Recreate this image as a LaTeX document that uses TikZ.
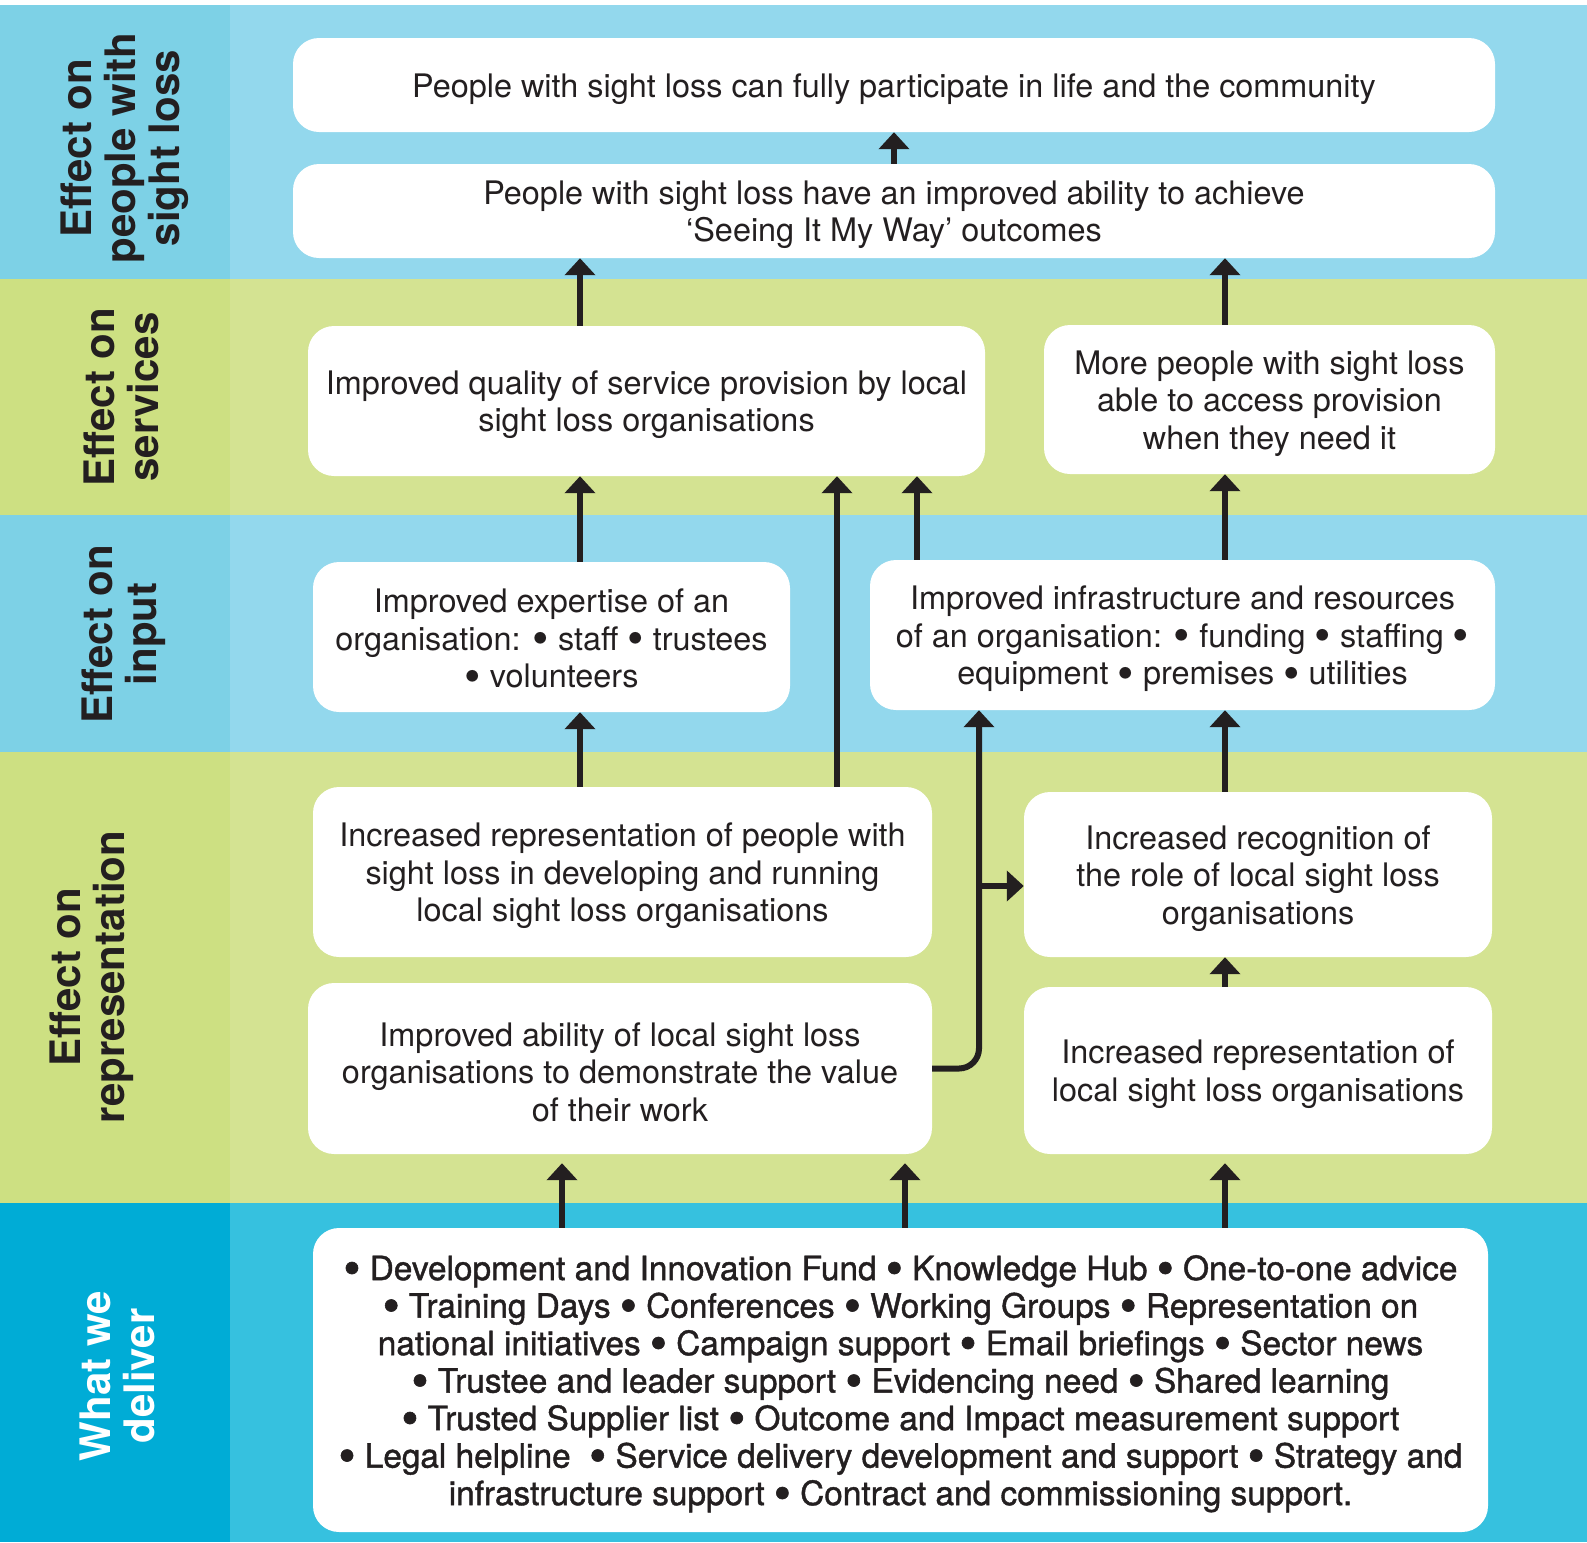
\documentclass[tikz,border=0pt]{standalone}
\usepackage{fontspec}
\usepackage{graphicx}
\setmainfont{TeX Gyre Heros}
\newfontfamily\medfont[FakeBold=1.2]{TeX Gyre Heros}
\usetikzlibrary{arrows.meta}
\definecolor{ink}{RGB}{35,31,32}
\definecolor{blueL}{RGB}{125,209,230}
\definecolor{blueR}{RGB}{147,216,237}
\definecolor{greenL}{RGB}{205,224,130}
\definecolor{greenR}{RGB}{212,227,146}
\definecolor{cyanL}{RGB}{0,172,214}
\definecolor{cyanR}{RGB}{54,193,223}
\newcommand\bul{\raisebox{-0.14em}{\scalebox{1.45}{•}}}
\newcommand\lift{\rule{0pt}{0.97em}}

\begin{document}
\begin{tikzpicture}[x=1pt,y=-1pt,
  box/.style={fill=white,rounded corners=26pt,align=center,inner sep=0pt,text=ink,
    font=\fontsize{32.4}{37.5}\selectfont},
  lbl/.style={rotate=90,align=center,text=ink,font=\fontsize{42}{44}\selectfont\bfseries},
  arr/.style={draw=ink,line width=6pt,-{Triangle[width=30pt,length=17pt]}}]
\useasboundingbox (0,0) rectangle (1587,1542);
% bands
\foreach \ya/\yb/\cl in {5/279/blue,279/515/green,515/752/blue,752/1203/green,1203/1542/cyan}{
  \fill[\cl L] (0,\ya) rectangle (230,\yb);
  \fill[\cl R] (230,\ya) rectangle (1587,\yb);
}
\node[lbl] (lab1) at (125,148) {Effect on\\people with\\sight loss};
\node[lbl] (lab2) at (121,397) {Effect on\\services};
\node[lbl] (lab3) at (124,634) {Effect on\\input};
\node[lbl] (lab4) at (92,977) {Effect on\\representation};
\node[lbl,text=white] (lab5) at (117,1376) {What we\\deliver};
% boxes
\node[box,minimum width=1202pt,minimum height=94pt] (top1) at (894,85)
  {\lift People with sight loss can fully participate in life and the community};
\node[box,minimum width=1202pt,minimum height=94pt] (top2) at (894,211)
  {\lift People with sight loss have an improved ability to achieve\\‘Seeing It My Way’ outcomes};
\node[box,minimum width=677pt,minimum height=150pt] (svc1) at (646.5,401)
  {\lift Improved quality of service provision by local\\sight loss organisations};
\node[box,minimum width=451pt,minimum height=149pt] (svc2) at (1269.5,399.5)
  {\lift More people with sight loss\\able to access provision\\when they need it};
\node[box,minimum width=477pt,minimum height=150pt] (inp1) at (551.5,637)
  {\lift Improved expertise of an\\organisation: \bul{} staff \bul{} trustees\\\bul{} volunteers};
\node[box,minimum width=625pt,minimum height=150pt] (inp2) at (1182.5,635)
  {\lift Improved infrastructure and resources\\of an organisation: \bul{} funding \bul{} staffing \bul\\equipment \bul{} premises \bul{} utilities};
\node[box,minimum width=619pt,minimum height=170pt] (rep1) at (622.5,872)
  {\lift Increased representation of people with\\sight loss in developing and running\\local sight loss organisations};
\node[box,minimum width=468pt,minimum height=165pt] (rep2) at (1258,874.5)
  {\lift Increased recognition of\\the role of local sight loss\\organisations};
\node[box,minimum width=624pt,minimum height=171pt] (rep3) at (620,1068.5)
  {\lift Improved ability of local sight loss\\organisations to demonstrate the value\\of their work};
\node[box,minimum width=468pt,minimum height=167pt] (rep4) at (1258,1070.5)
  {\lift Increased representation of\\local sight loss organisations};
\node[box,minimum width=1175pt,minimum height=304pt,font=\fontsize{33.4}{37.5}\medfont] (dlv) at (900.5,1380)
  {\lift\bul{} Development and Innovation Fund \bul{} Knowledge Hub \bul{} One-to-one advice\\
   \bul{} Training Days \bul{} Conferences \bul{} Working Groups \bul{} Representation on\\
   national initiatives \bul{} Campaign support \bul{} Email briefings \bul{} Sector news\\
   \bul{} Trustee and leader support \bul{} Evidencing need \bul{} Shared learning\\
   \bul{} Trusted Supplier list \bul{} Outcome and Impact measurement support\\
   \bul{} Legal helpline\ \ \bul{} Service delivery development and support \bul{} Strategy and\\
   infrastructure support \bul{} Contract and commissioning support.};
% arrows
\coordinate (cA) at (580,0);
\coordinate (cB) at (1225,0);
\coordinate (cC) at (837,0);
\coordinate (cD) at (917,0);
\coordinate (cE) at (979,0);
\coordinate (cF) at (562,0);
\coordinate (cG) at (905,0);
\draw[arr] (top2.north) -- (top1.south);
\foreach \lo/\hi/\cl in {svc1/top2/cA,svc2/top2/cB,inp1/svc1/cA,rep1/svc1/cC,inp2/svc1/cD,
  inp2/svc2/cB,rep1/inp1/cA,rep2/inp2/cB,rep4/rep2/cB}
  \draw[arr] (\lo.north -| \cl) -- (\hi.south -| \cl);
\foreach \hi/\cl in {rep3/cF,rep3/cG,rep4/cB}
  \draw[arr,shorten >=9pt] (dlv.north -| \cl) -- (\hi.south -| \cl);
\draw[arr,rounded corners=20pt] (rep3.east) -- (rep3.east -| cE) -- (inp2.south -| cE);
\coordinate (jn) at (979,886);
\draw[arr] (jn) -- (jn -| rep2.west);
\end{tikzpicture}
\end{document}
